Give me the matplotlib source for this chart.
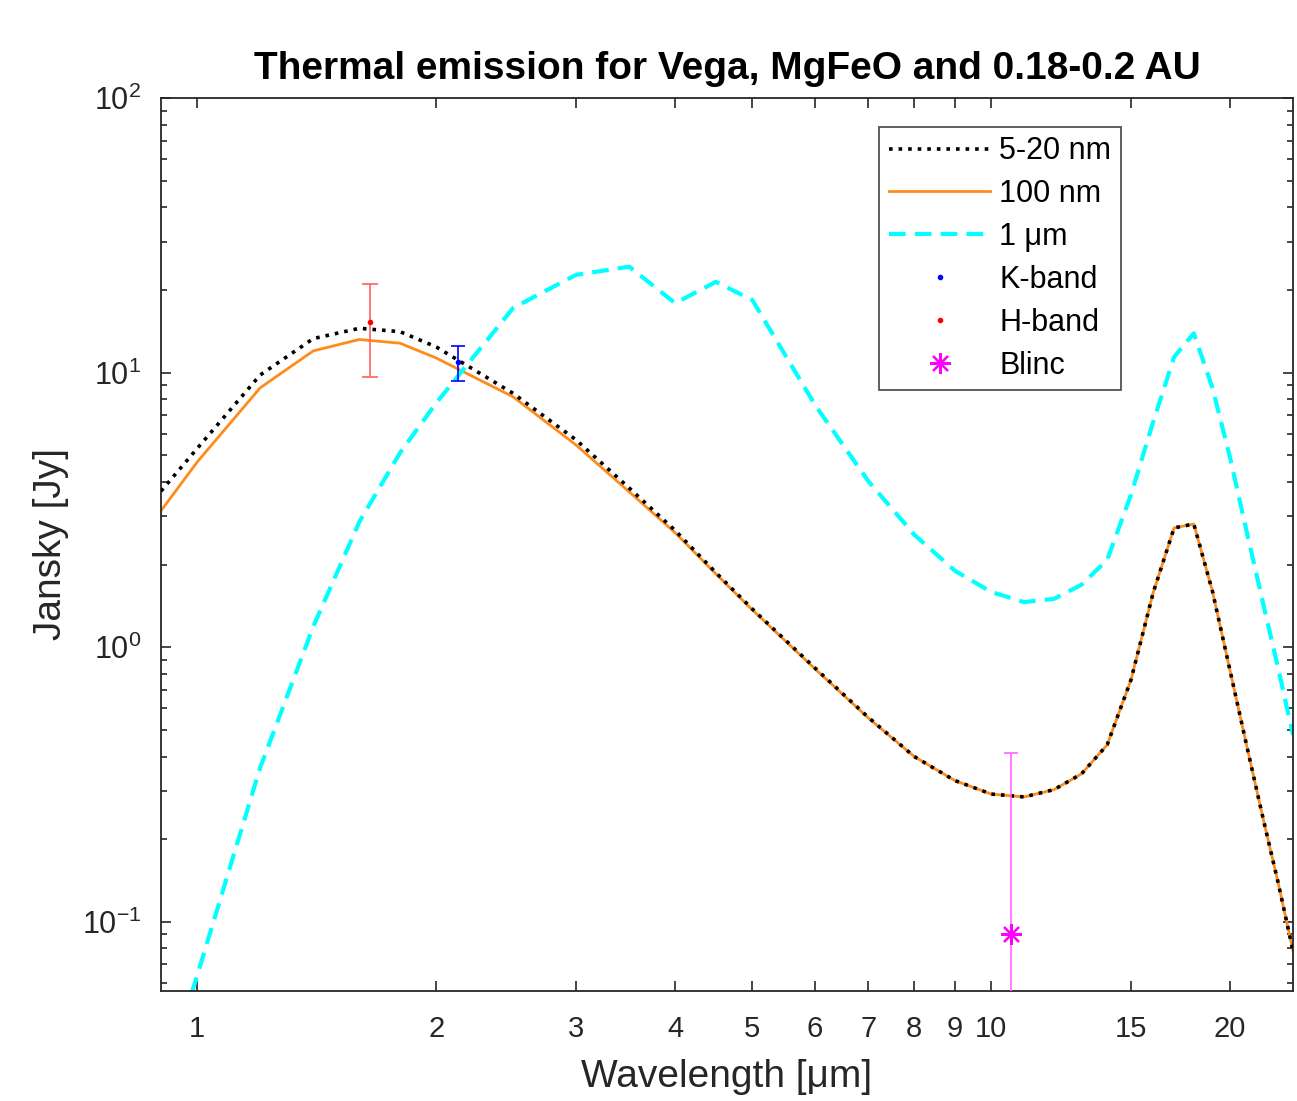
import numpy as np
import matplotlib.pyplot as plt
from matplotlib.ticker import FixedLocator, NullLocator, FixedFormatter

plt.rcParams['font.family'] = ['Liberation Sans', 'DejaVu Sans']
plt.rcParams['mathtext.fontset'] = 'custom'
plt.rcParams['mathtext.rm'] = 'Liberation Sans'

# wavelength grid [um]
wavelength = [0.9, 1.0, 1.2, 1.4, 1.6, 1.8, 2.0, 2.5, 3.0, 3.5, 4.0, 4.5, 5.0,
              6.0, 7.0, 8.0, 9.0, 10, 11, 12, 13, 14, 15, 16, 17, 18,
              19, 20, 21, 22, 23, 24]

# flux [Jy] for the three grain sizes
flux_5_20nm = [3.70, 5.3, 9.8, 13.3, 14.5, 14.1, 12.4, 8.4, 5.69, 3.80, 2.66, 1.87, 1.38,
               0.84, 0.556, 0.40, 0.327, 0.292, 0.285, 0.303, 0.346, 0.441, 0.76, 1.58, 2.72, 2.81,
               1.60, 0.82, 0.434, 0.239, 0.138, 0.0785]
flux_100nm = [3.14, 4.73, 8.8, 12.0, 13.2, 12.8, 11.3, 8.16, 5.45, 3.68, 2.61, 1.85, 1.37,
              0.834, 0.553, 0.40, 0.327, 0.292, 0.285, 0.303, 0.346, 0.441, 0.76, 1.58, 2.72, 2.81,
              1.60, 0.82, 0.434, 0.239, 0.138, 0.0785]
flux_1um = [0.024, 0.064, 0.364, 1.19, 2.86, 5.1, 7.76, 17.2, 22.7, 24.3, 17.9, 21.4, 18.4,
            7.63, 4.03, 2.57, 1.90, 1.59, 1.46, 1.50, 1.69, 2.08, 3.59, 6.62, 11.4, 13.9,
            8.8, 4.89, 2.61, 1.45, 0.834, 0.48]

# photometry: wavelength, flux, error
k_band = (2.13, 10.9, 1.6)
h_band = (1.65, 15.3, 5.7)
blinc = (10.6, 0.0906, 0.322)

xticks = [1, 2, 3, 4, 5, 6, 7, 8, 9, 10, 15, 20]
xtick_labels = ['1', '2', '3', '4', '5', '6', '7', '8', '9', '10', '15', '20']

fig = plt.figure(figsize=(12.97, 11.01), dpi=100)
ax = fig.add_axes([0.1241, 0.0999, 0.8728, 0.8111])

ax.plot(wavelength, flux_5_20nm, ':', color='black', lw=2.6, label='5-20 nm', zorder=3)
ax.plot(wavelength, flux_100nm, '-', color='#ff8c1a', lw=2.0, label='100 nm', zorder=2)
ax.plot(wavelength, flux_1um, '--', color='cyan', lw=3.0, dashes=(4, 2.2), label='1 μm', zorder=2)

# error bars (no legend entries)
ax.errorbar(k_band[0], k_band[1], yerr=k_band[2], fmt='none',
            ecolor='blue', elinewidth=1.2, capsize=5, capthick=1.2, zorder=4)
ax.errorbar(h_band[0], h_band[1], yerr=h_band[2], fmt='none',
            ecolor='#ff6060', elinewidth=1.2, capsize=6, capthick=1.2, zorder=4)
# lower error of Blinc goes below zero, clip it off the log axis
blinc_lo = min(blinc[2], blinc[1] - 1e-4)
ax.errorbar(blinc[0], blinc[1], yerr=[[blinc_lo], [blinc[2]]], fmt='none',
            ecolor='#ff66ff', elinewidth=1.2, capsize=5, capthick=1.2, zorder=4)

# data points
ax.plot(k_band[0], k_band[1], linestyle='none', marker='.', color='blue', ms=6,
        label='K-band', zorder=5)
ax.plot(h_band[0], h_band[1], linestyle='none', marker='.', color='red', ms=6,
        label='H-band', zorder=5)
ax.plot(blinc[0], blinc[1], linestyle='none', marker=(8, 2, 0), color='magenta',
        ms=15, mew=1.6, label='Blinc', zorder=5)

ax.set_xscale('log')
ax.set_yscale('log')
ax.set_xlim(0.9, 24)
ax.set_ylim(0.056, 100)

ax.xaxis.set_major_locator(FixedLocator(xticks))
ax.xaxis.set_major_formatter(FixedFormatter(xtick_labels))
ax.xaxis.set_minor_locator(NullLocator())

dark = '#262626'
for s in ax.spines.values():
    s.set_linewidth(1.3)
    s.set_color(dark)
ax.tick_params(which='both', direction='in', top=True, right=True, colors=dark,
               labelsize=21, width=1.2)
ax.tick_params(axis='x', which='major', length=7, pad=17)
ax.tick_params(axis='y', which='major', length=7, pad=14, labelsize=22)
ax.tick_params(which='minor', length=4)

ax.set_title('Thermal emission for Vega, MgFeO and 0.18-0.2 AU',
             fontsize=28, fontweight='bold', color='black', pad=14)
ax.set_xlabel('Wavelength [μm]', fontsize=28, color=dark, labelpad=12)
ax.set_ylabel('Jansky [Jy]', fontsize=28, color=dark, labelpad=9)

leg = ax.legend(loc='upper right', bbox_to_anchor=(0.848, 0.968),
                fontsize=22, frameon=True, fancybox=False, edgecolor=dark,
                handlelength=3.3, handletextpad=0.3, labelspacing=0.42,
                borderpad=0.32, borderaxespad=0)
leg.get_frame().set_linewidth(1.3)

fig.savefig('out.png', dpi=100)
